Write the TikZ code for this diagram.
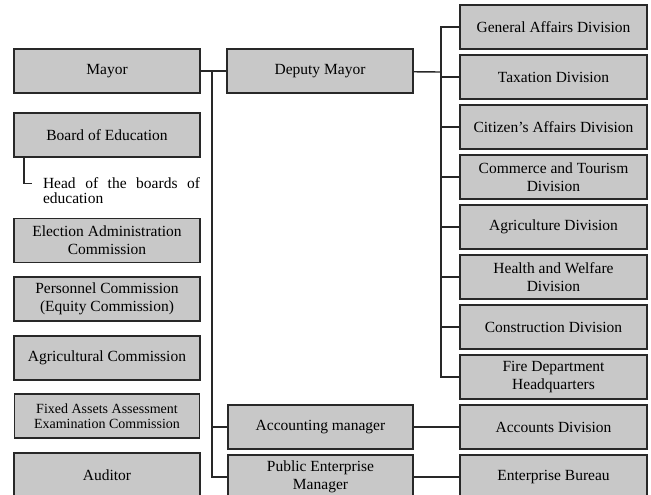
\documentclass[tikz,border=0pt]{standalone}
\usepackage{fontspec}
\setmainfont{Liberation Serif}
\usetikzlibrary{positioning}
\definecolor{boxgray}{RGB}{200,200,200}
\definecolor{linegray}{RGB}{40,40,40}

\begin{document}
\begin{tikzpicture}[
    x=1pt, y=-1pt,
    box/.style={rectangle, draw=linegray, line width=1.6pt, fill=boxgray, minimum height=44pt, minimum width=186pt, inner sep=2pt, outer sep=0pt, align=center, font=\fontsize{15.5}{18}\selectfont},
    link/.style={draw=linegray, line width=1.4pt},
    node distance=6pt and 27pt
]
\useasboundingbox (0,0) rectangle (651,495);
\clip (0,0) rectangle (651,495);

% Nodes (Define all nodes first)
% Left column
\node[box] (mayor) at (107,71) {Mayor};
\node[box, below=20pt of mayor] (board) {Board of Education};
\node[text width=157pt, inner sep=0pt, align=justify, font=\fontsize{15.5}{15}\selectfont] (head) at (121.5,190.5) {Head of the boards of\linebreak education};
\node[box, below=61.5pt of board] (election) {Election Administration\\Commission};
\node[box, below=14.5pt of election] (personnel) {Personnel Commission\\(Equity Commission)};
\node[box, below=15pt of personnel] (agricomm) {Agricultural Commission};
\node[box, below=14pt of agricomm, minimum width=185pt, font=\fontsize{14}{14.5}\selectfont] (fixed) {Fixed Assets Assessment\\Examination Commission};
\node[box, below=15pt of fixed] (auditor) {Auditor};

% Middle column
\node[box, right=of mayor] (deputy) {Deputy Mayor};
\node[box, minimum width=185pt] (accounting) at (320.5,427) {Accounting manager};
\node[box, minimum width=185pt, below=of accounting] (public) {Public Enterprise\\Manager};

% Right column
\node[box, minimum width=187pt] (general) at (553.5,27) {General Affairs Division};
\node[box, minimum width=187pt, below=of general] (taxation) {Taxation Division};
\node[box, minimum width=187pt, below=of taxation] (citizen) {Citizen's Affairs Division};
\node[box, minimum width=187pt, below=of citizen] (commerce) {Commerce and Tourism\\Division};
\node[box, minimum width=187pt, below=of commerce] (agriculture) {Agriculture Division};
\node[box, minimum width=187pt, below=of agriculture] (health) {Health and Welfare\\Division};
\node[box, minimum width=187pt, below=of health] (construction) {Construction Division};
\node[box, minimum width=187pt, below=of construction] (fire) {Fire Department\\Headquarters};
\node[box, minimum width=187pt, below=of fire] (accounts) {Accounts Division};
\node[box, minimum width=187pt, below=of accounts] (enterprise) {Enterprise Bureau};

% Trunk points
\coordinate (ltrunk) at (212,71);
\coordinate (rtrunk) at (441,72);

% Connectors
\draw[link] (mayor) -- (deputy);
\draw[link] (ltrunk) |- (public);
\draw[link] (ltrunk |- accounting) -- (accounting);
\draw[link] ([xshift=10pt]board.south west) |- ([xshift=-11pt, yshift=7pt]head.west);

\draw[link] (deputy) -- (rtrunk);
\draw[link] (general.west) -| (rtrunk) |- (fire.west);
\draw[link] (rtrunk |- taxation) -- (taxation);
\draw[link] (rtrunk |- citizen) -- (citizen);
\draw[link] (rtrunk |- commerce) -- (commerce);
\draw[link] (rtrunk |- agriculture) -- (agriculture);
\draw[link] (rtrunk |- health) -- (health);
\draw[link] (rtrunk |- construction) -- (construction);

\draw[link] (accounting) -- (accounts);
\draw[link] (public) -- (enterprise);

\end{tikzpicture}
\end{document}
